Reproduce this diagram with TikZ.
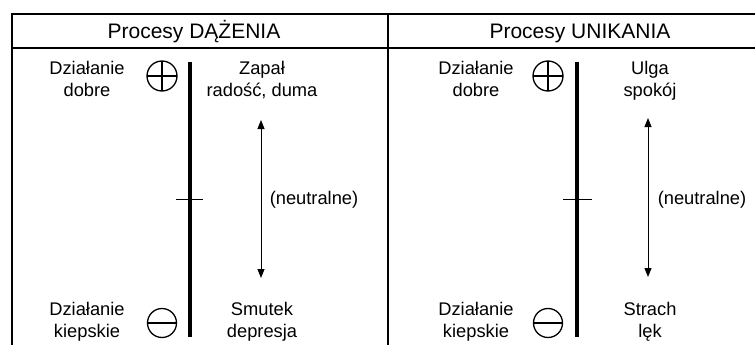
\documentclass[tikz,border=0pt]{standalone}
\usepackage{fontspec}
\setmainfont{Liberation Sans}
\usetikzlibrary{arrows.meta}
\begin{document}
\begin{tikzpicture}[x=1pt,y=-1pt,
  frame/.style={line width=1.6pt, black},
  axis/.style={line width=3.5pt, black},
  tickmark/.style={line width=1pt, black},
  lbl/.style={font=\fontsize{18.3}{22}\selectfont, align=center, inner sep=0pt, anchor=base},
  ttl/.style={font=\fontsize{21}{24}\selectfont, inner sep=0pt, anchor=base},
  pluscirc/.style={circle, draw, line width=1.3pt, minimum size=30pt, inner sep=0pt,
    path picture={\draw[line width=1.3pt] (path picture bounding box.north) -- (path picture bounding box.south)
      (path picture bounding box.west) -- (path picture bounding box.east);}},
  minuscirc/.style={circle, draw, line width=1.3pt, minimum size=29pt, inner sep=0pt,
    path picture={\draw[line width=1.3pt] (path picture bounding box.west) -- (path picture bounding box.east);}},
  arr/.style={line width=1pt, {Triangle[length=9pt,width=7pt]}-{Triangle[length=9pt,width=7pt]}}
]
\useasboundingbox (0,0) rectangle (755,345);
% frame
\coordinate (fTL) at (12,14);
\coordinate (fTR) at (755,14);
\coordinate (hL) at (12,48);
\coordinate (hR) at (755,48);
\coordinate (fBL) at (12,345);
\coordinate (dT) at (388,14);
\coordinate (dB) at (388,345);
\draw[frame] (fTR) -- (fTL) -- (fBL);
\draw[frame] (hL) -- (hR);
\draw[frame] (dT) -- (dB);
% titles
\node[ttl] (t1) at (194,39) {Procesy DĄŻENIA};
\node[ttl] (t2) at (580,39) {Procesy UNIKANIA};
% left panel
\node[lbl] (good1) at (87,96) {Działanie\\dobre};
\node[pluscirc] (plus1) at (162,76) {};
\coordinate (ax1top) at (190,62);
\coordinate (ax1bot) at (190,337);
\draw[axis] (ax1top) -- (ax1bot);
\coordinate (tk1a) at (176,199);
\coordinate (tk1b) at (203,199);
\draw[tickmark] (tk1a) -- (tk1b);
\node[lbl] (pos1) at (262,96) {Zapał\\radość, duma};
\coordinate (ar1a) at (261,120);
\coordinate (ar1b) at (261,278);
\draw[arr] (ar1a) -- (ar1b);
\node[lbl] (neu1) at (314,204) {(neutralne)};
\node[lbl] (bad1) at (87,337) {Działanie\\kiepskie};
\node[minuscirc] (minus1) at (162,323) {};
\node[lbl] (neg1) at (262,337) {Smutek\\depresja};
% right panel
\node[lbl] (good2) at (476,96) {Działanie\\dobre};
\node[pluscirc] (plus2) at (548,76) {};
\coordinate (ax2top) at (577,62);
\coordinate (ax2bot) at (577,337);
\draw[axis] (ax2top) -- (ax2bot);
\coordinate (tk2a) at (563,199);
\coordinate (tk2b) at (592,199);
\draw[tickmark] (tk2a) -- (tk2b);
\node[lbl] (pos2) at (650,96) {Ulga\\spokój};
\coordinate (ar2a) at (648,118);
\coordinate (ar2b) at (648,277);
\draw[arr] (ar2a) -- (ar2b);
\node[lbl] (neu2) at (702,204) {(neutralne)};
\node[lbl] (bad2) at (476,337) {Działanie\\kiepskie};
\node[minuscirc] (minus2) at (548,323) {};
\node[lbl] (neg2) at (650,337) {Strach\\lęk};
\end{tikzpicture}
\end{document}
